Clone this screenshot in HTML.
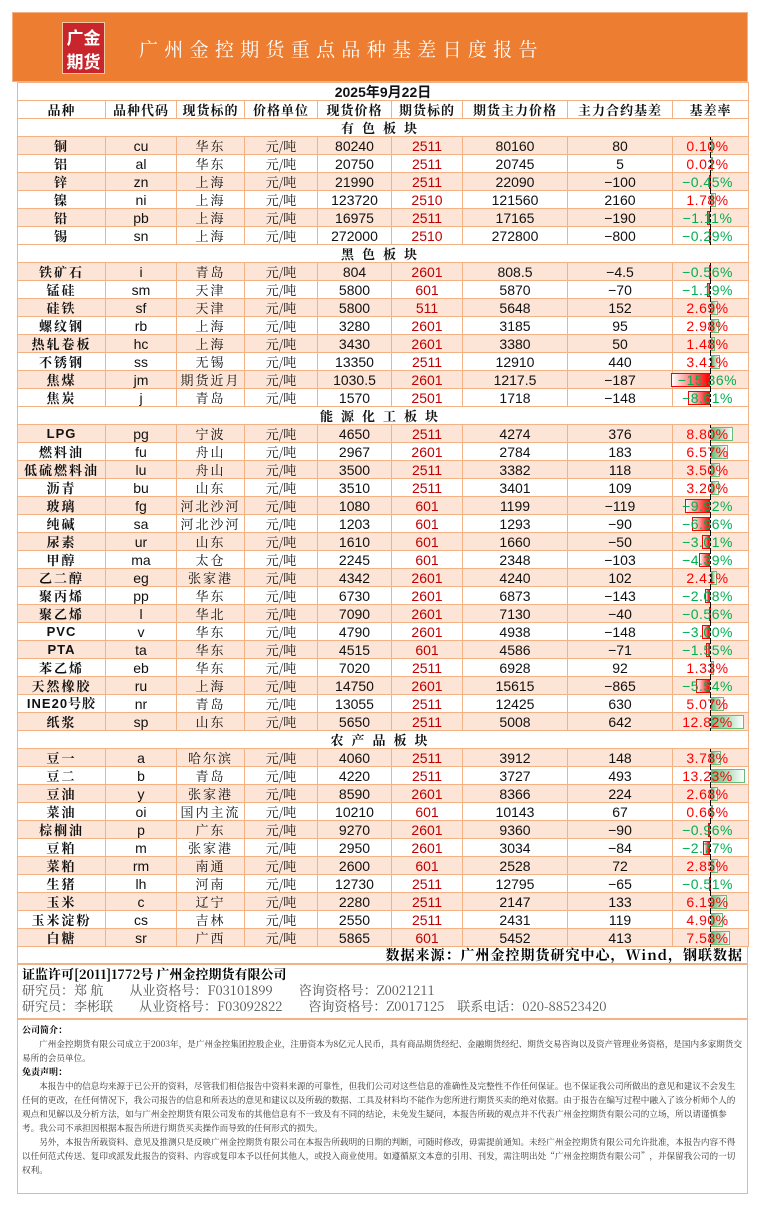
<!DOCTYPE html>
<html><head><meta charset="utf-8">
<style>
*{margin:0;padding:0;box-sizing:border-box}
body{width:763px;height:1207px;background:#fff;position:relative;font-family:"Liberation Sans","Noto Sans CJK SC",sans-serif;overflow:hidden}
#hdr{position:absolute;left:12px;top:12px;width:736px;height:70px;background:#ed7d31;border:1px solid #f4b183}
#logo{position:absolute;left:49px;top:9px;width:43px;height:52px;background:#c8262c;border:1px solid #f2c9a0;color:#fff;font:bold 17px "Noto Sans CJK SC",sans-serif;line-height:24px;text-align:center;padding-top:2px}
#title{position:absolute;left:126px;top:22px;color:#fff;font:19px "Noto Serif CJK SC","Noto Sans CJK SC",serif;letter-spacing:6.3px;white-space:nowrap}
table{position:absolute;left:17px;top:82px;border-collapse:collapse;table-layout:fixed}
td{height:18px;border:1px solid #f4b183;text-align:center;font-size:14px;line-height:16px;white-space:nowrap;overflow:hidden;padding:0;color:#111;vertical-align:middle}
.cn{font-family:"Noto Serif CJK SC",serif;font-size:13px}
.b{font-weight:bold;font-family:"Noto Serif CJK SC",serif;letter-spacing:2px;font-size:13px}
.bl{font-weight:bold;font-family:"Liberation Sans","Noto Serif CJK SC",sans-serif;letter-spacing:1px;font-size:13px}
.p td{background:#fce4d6}
.c{color:#c00000}
.sec td{font-weight:bold;font-family:"Noto Serif CJK SC",serif;letter-spacing:8px;font-size:13px}
.hd td{font-weight:bold;font-family:"Noto Serif CJK SC",serif;font-size:13px;letter-spacing:1px}
.r{position:relative;overflow:visible}
.r span{position:relative;z-index:2;letter-spacing:0.5px;display:inline-block;margin-right:6px}
.pos{color:#ff0000}.neg{color:#00b050}
.ax{position:absolute;left:37px;top:0;height:18px;border-left:1px dashed #000;z-index:3}
.bn{position:absolute;top:2px;height:14px;border:1px solid #ff0000;background:linear-gradient(to right,#fff,#ff0000);z-index:1}
.bp{position:absolute;top:2px;height:14px;border:1px solid #63be7b;background:linear-gradient(to right,#63be7b,#fff);z-index:1}
#src{position:absolute;left:17px;top:946px;width:731px;height:18px;border:1px solid #f4b183;text-align:right;font:bold 14px "Noto Serif CJK SC",serif;line-height:16px;padding-right:4px;letter-spacing:1px}
#lic{position:absolute;left:17px;top:964px;width:731px;height:55px;border:1px solid #f4b183;padding:1px 4px;font-family:"Noto Serif CJK SC",serif;font-size:13px;line-height:16px;color:#555;white-space:nowrap}
#lic b{color:#000}
#dis{position:absolute;left:17px;top:1019px;width:731px;height:175px;border:1px solid #f4b183;padding:3px 4px;font-family:"Noto Serif CJK SC",serif;font-size:8.6px;line-height:14px;color:#333}
#dis p{text-indent:2em}
#dis h4{font-size:9px;color:#000}
</style></head><body>
<div id="hdr"><div id="logo">广金<br>期货</div><div id="title">广州金控期货重点品种基差日度报告</div></div>
<table>
<colgroup><col style="width:88px"><col style="width:71px"><col style="width:68px"><col style="width:73px"><col style="width:74px"><col style="width:71px"><col style="width:105px"><col style="width:105px"><col style="width:76px"></colgroup>
<tr><td colspan="9" style="font-weight:bold;font-family:'Liberation Sans','Noto Sans CJK SC',sans-serif">2025年9月22日</td></tr>
<tr class="hd"><td>品种</td><td>品种代码</td><td>现货标的</td><td>价格单位</td><td>现货价格</td><td>期货标的</td><td>期货主力价格</td><td>主力合约基差</td><td>基差率</td></tr>
<tbody id="tb"></tbody>
</table>
<div id="src">数据来源：广州金控期货研究中心，Wind，钢联数据</div>
<div id="lic"><b>证监许可[2011]1772号 广州金控期货有限公司</b><br>研究员：郑 航　　从业资格号：F03101899　　咨询资格号：Z0021211<br>研究员：李彬联　　从业资格号：F03092822　　咨询资格号：Z0017125　联系电话：020-88523420</div>
<div id="dis"><h4>公司简介：</h4><p>广州金控期货有限公司成立于2003年，是广州金控集团控股企业，注册资本为8亿元人民币，具有商品期货经纪、金融期货经纪、期货交易咨询以及资产管理业务资格，是国内多家期货交易所的会员单位。</p><h4>免责声明：</h4><p>本报告中的信息均来源于已公开的资料，尽管我们相信报告中资料来源的可靠性，但我们公司对这些信息的准确性及完整性不作任何保证。也不保证我公司所做出的意见和建议不会发生任何的更改，在任何情况下，我公司报告的信息和所表达的意见和建议以及所载的数据、工具及材料均不能作为您所进行期货买卖的绝对依据。由于报告在编写过程中融入了该分析师个人的观点和见解以及分析方法，如与广州金控期货有限公司发布的其他信息有不一致及有不同的结论，未免发生疑问，本报告所载的观点并不代表广州金控期货有限公司的立场，所以请谨慎参考。我公司不承担因根据本报告所进行期货买卖操作而导致的任何形式的损失。</p><p>另外，本报告所载资料、意见及推测只是反映广州金控期货有限公司在本报告所载明的日期的判断，可随时修改，毋需提前通知。未经广州金控期货有限公司允许批准，本报告内容不得以任何范式传送、复印或派发此报告的资料、内容或复印本予以任何其他人，或投入商业使用。如遵循原文本意的引用、刊发，需注明出处“广州金控期货有限公司”，并保留我公司的一切权利。</p></div>
<script>
const D=[
["有色板块"],
["铜","cu","华东",80240,2511,80160,80,0.10],["铝","al","华东",20750,2511,20745,5,0.02],["锌","zn","上海",21990,2511,22090,-100,-0.45],["镍","ni","上海",123720,2510,121560,2160,1.78],["铅","pb","上海",16975,2511,17165,-190,-1.11],["锡","sn","上海",272000,2510,272800,-800,-0.29],
["黑色板块"],
["铁矿石","i","青岛",804,2601,"808.5","-4.5",-0.56],["锰硅","sm","天津",5800,601,5870,-70,-1.19],["硅铁","sf","天津",5800,511,5648,152,2.69],["螺纹钢","rb","上海",3280,2601,3185,95,2.98],["热轧卷板","hc","上海",3430,2601,3380,50,1.48],["不锈钢","ss","无锡",13350,2511,12910,440,3.41],["焦煤","jm","期货近月","1030.5",2601,"1217.5",-187,-15.36],["焦炭","j","青岛",1570,2501,1718,-148,-8.61],
["能源化工板块"],
["LPG","pg","宁波",4650,2511,4274,376,8.80],["燃料油","fu","舟山",2967,2601,2784,183,6.57],["低硫燃料油","lu","舟山",3500,2511,3382,118,3.50],["沥青","bu","山东",3510,2511,3401,109,3.20],["玻璃","fg","河北沙河",1080,601,1199,-119,-9.92],["纯碱","sa","河北沙河",1203,601,1293,-90,-6.96],["尿素","ur","山东",1610,601,1660,-50,-3.01],["甲醇","ma","太仓",2245,601,2348,-103,-4.39],["乙二醇","eg","张家港",4342,2601,4240,102,2.41],["聚丙烯","pp","华东",6730,2601,6873,-143,-2.08],["聚乙烯","l","华北",7090,2601,7130,-40,-0.56],["PVC","v","华东",4790,2601,4938,-148,-3.00],["PTA","ta","华东",4515,601,4586,-71,-1.55],["苯乙烯","eb","华东",7020,2511,6928,92,1.33],["天然橡胶","ru","上海",14750,2601,15615,-865,-5.54],["INE20号胶","nr","青岛",13055,2511,12425,630,5.07],["纸浆","sp","山东",5650,2511,5008,642,12.82],
["农产品板块"],
["豆一","a","哈尔滨",4060,2511,3912,148,3.78],["豆二","b","青岛",4220,2511,3727,493,13.23],["豆油","y","张家港",8590,2601,8366,224,2.68],["菜油","oi","国内主流",10210,601,10143,67,0.66],["棕榈油","p","广东",9270,2601,9360,-90,-0.96],["豆粕","m","张家港",2950,2601,3034,-84,-2.77],["菜粕","rm","南通",2600,601,2528,72,2.85],["生猪","lh","河南",12730,2511,12795,-65,-0.51],["玉米","c","辽宁",2280,2511,2147,133,6.19],["玉米淀粉","cs","吉林",2550,2511,2431,119,4.90],["白糖","sr","广西",5865,601,5452,413,7.58]];
let h="",k=0;
for(const r of D){
 if(r.length==1){h+=`<tr class="sec"><td colspan="9">${r[0]}</td></tr>`;k=0;continue}
 const v=r[7],w=Math.abs(v)*2.55;
 const bar=v<0?`<div class="bn" style="left:${37-w}px;width:${w}px"></div>`:`<div class="bp" style="left:38px;width:${w}px"></div>`;
 const nm=/^[A-Z]/.test(r[0])?`<td class="bl">${r[0]}</td>`:`<td class="b">${r[0]}</td>`;
 h+=`<tr class="${k%2==0?'p':''}">${nm}<td>${r[1]}</td><td class="cn" style="letter-spacing:2px">${r[2]}</td><td class="cn">元/吨</td><td>${r[3]}</td><td class="c">${r[4]}</td><td>${r[5]}</td><td>${String(r[6]).replace('-','−')}</td><td class="r"><div style="position:absolute;left:0;top:0;width:76px;height:18px">${bar}<div class="ax"></div></div><span class="${v<0?'neg':'pos'}">${v.toFixed(2).replace('-','−')}%</span></td></tr>`;
 k++;
}
document.getElementById("tb").innerHTML=h;
</script>
</body></html>
